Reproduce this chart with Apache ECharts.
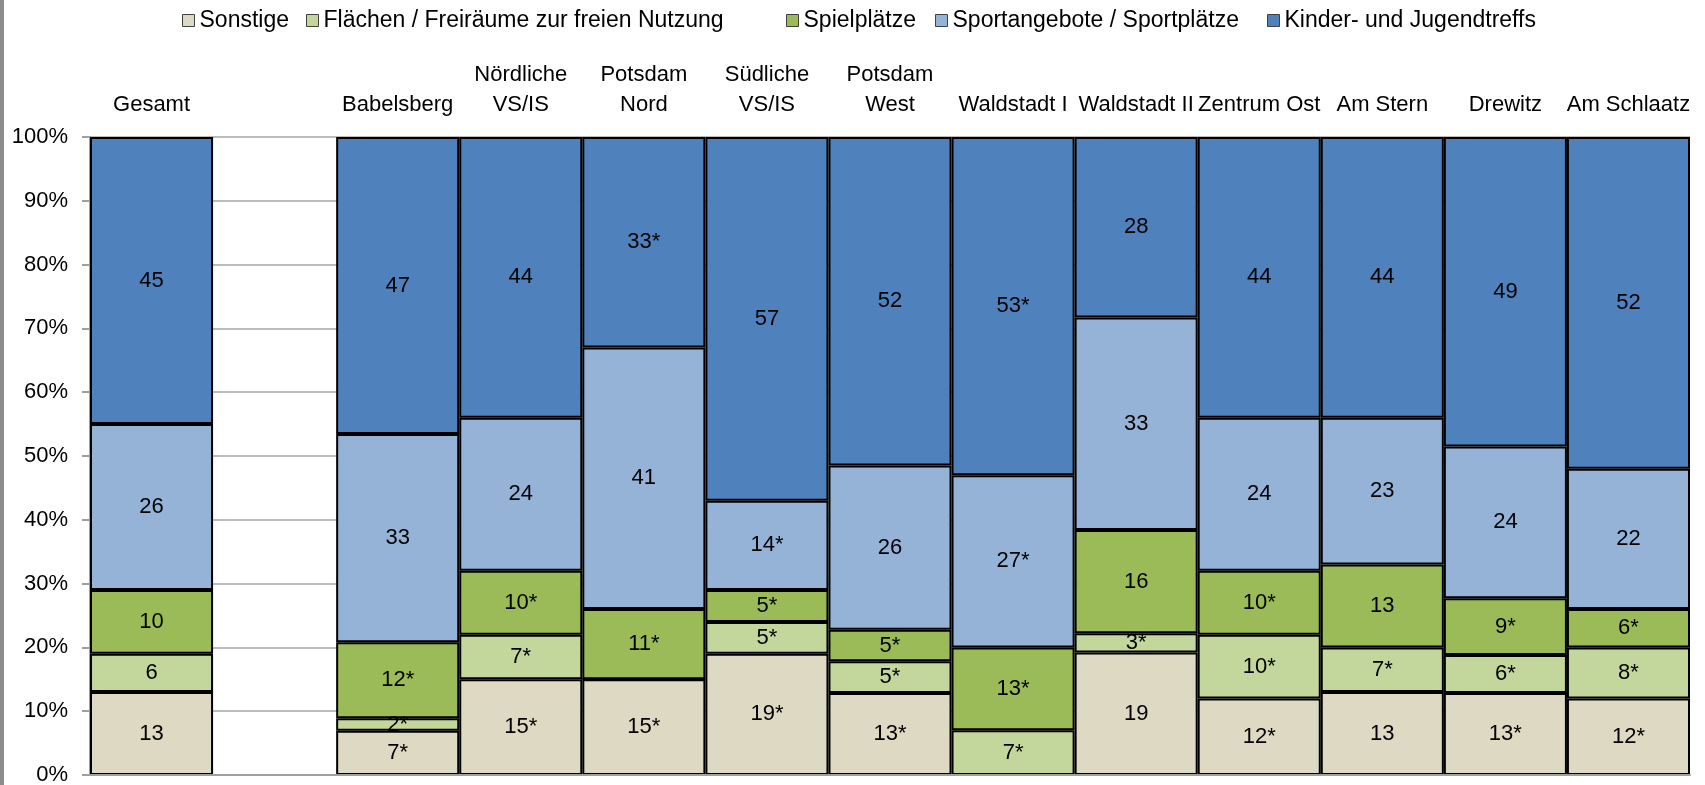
<!DOCTYPE html>
<html lang="de">
<head>
<meta charset="utf-8">
<title>Angebote nach Sozialraum</title>
<script src="https://cdn.jsdelivr.net/npm/echarts@6/dist/echarts.min.js"></script>
<style>
  html, body { margin: 0; padding: 0; background: #fff; }
  #chart { width: 1705px; height: 785px; }
</style>
</head>
<body>
<div id="chart"></div>
<script>
// Districts (the second slot is an intentional empty spacer column)
const categories = [
  'Gesamt', '', 'Babelsberg', 'Nördliche\nVS/IS', 'Potsdam\nNord', 'Südliche\nVS/IS',
  'Potsdam\nWest', 'Waldstadt I', 'Waldstadt II', 'Zentrum Ost', 'Am Stern', 'Drewitz', 'Am Schlaatz'
];

const seriesNames = [
  'Sonstige',
  'Flächen / Freiräume zur freien Nutzung',
  'Spielplätze',
  'Sportangebote / Sportplätze',
  'Kinder- und Jugendtreffs'
];

// Percent values per district (null = no bar)
const sonstige      = [13, null, 7, 15, 15, 19, 13, 0, 19, 12, 13, 13, 12];
const flaechen      = [6, null, 2, 7, 0, 5, 5, 7, 3, 10, 7, 6, 8];
const spielplaetze  = [10, null, 12, 10, 11, 5, 5, 13, 16, 10, 13, 9, 6];
const sportangebote = [26, null, 33, 24, 41, 14, 26, 27, 33, 24, 23, 24, 22];
const treffs        = [45, null, 47, 44, 33, 57, 52, 53, 28, 44, 44, 49, 52];

// 1 = value marked with an asterisk (small case numbers)
const sonstigeStar      = [0, 0, 1, 1, 1, 1, 1, 0, 0, 1, 0, 1, 1];
const flaechenStar      = [0, 0, 1, 1, 0, 1, 1, 1, 1, 1, 1, 1, 1];
const spielplaetzeStar  = [0, 0, 1, 1, 1, 1, 1, 1, 0, 1, 0, 1, 1];
const sportangeboteStar = [0, 0, 0, 0, 0, 1, 0, 1, 0, 0, 0, 0, 0];
const treffsStar        = [0, 0, 0, 0, 1, 0, 0, 1, 0, 0, 0, 0, 0];

const yTicks = [0, 10, 20, 30, 40, 50, 60, 70, 80, 90, 100];

const values = [sonstige, flaechen, spielplaetze, sportangebote, treffs];
const stars = [sonstigeStar, flaechenStar, spielplaetzeStar, sportangeboteStar, treffsStar];
const colors = ['#DDD9C3', '#C3D69B', '#9BBB59', '#95B3D7', '#4F81BD'];

const FONT = '"Liberation Sans", Arial, sans-serif';

// 100 % stacking: each segment is drawn as its share of the column total
const totals = categories.map((_, i) =>
  values.reduce((s, arr) => s + (arr[i] || 0), 0));

const series = values.map((arr, k) => ({
  name: seriesNames[k],
  type: 'bar',
  stack: 'total',
  barWidth: '100%',
  itemStyle: { color: colors[k], borderColor: '#000', borderWidth: 2 },
  label: {
    show: true,
    position: 'inside',
    color: '#000',
    fontFamily: FONT,
    fontSize: 22,
    formatter: p => {
      const v = arr[p.dataIndex];
      if (!v) return '';
      return v + (stars[k][p.dataIndex] ? '*' : '');
    }
  },
  data: arr.map((v, i) => (v == null || !totals[i]) ? null : v / totals[i] * 100)
}));

// One legend block per entry so each can sit at its own spot
const legendLeft = [177, 301, 781, 930, 1262];
const legends = seriesNames.map((n, k) => ({
  data: [n],
  left: legendLeft[k],
  top: 4,
  icon: 'rect',
  itemWidth: 12,
  itemHeight: 12,
  itemStyle: { borderColor: '#404040', borderWidth: 1 },
  textStyle: { color: '#000', fontFamily: FONT, fontSize: 23 },
  selectedMode: false
}));

const chart = echarts.init(document.getElementById('chart'), null, { renderer: 'canvas' });
chart.setOption({
  animation: false,
  backgroundColor: '#fff',
  textStyle: { fontFamily: FONT },
  legend: legends,
  grid: { left: 90, right: 15, top: 137, bottom: 10, outerBoundsMode: 'none' },
  xAxis: [
    {
      type: 'category',
      data: categories,
      position: 'bottom',
      z: 5,
      axisLine: { lineStyle: { color: '#a0a0a0', width: 2 } },
      axisTick: { length: 11, lineStyle: { color: '#a0a0a0', width: 2 } },
      axisLabel: { show: false }
    },
    {
      type: 'category',
      data: categories,
      position: 'top',
      axisLine: { show: false },
      axisTick: { show: false },
      axisLabel: {
        interval: 0,
        color: '#000',
        fontFamily: FONT,
        fontSize: 22,
        lineHeight: 30,
        margin: 17
      }
    }
  ],
  yAxis: {
    type: 'value',
    min: yTicks[0],
    max: yTicks[yTicks.length - 1],
    interval: 10,
    axisLine: { show: true, lineStyle: { color: '#a0a0a0', width: 2 } },
    axisTick: { show: true, length: 8, lineStyle: { color: '#a0a0a0', width: 2 } },
    axisLabel: { color: '#000', fontFamily: FONT, fontSize: 22, margin: 22, formatter: '{value}%' },
    splitLine: { lineStyle: { color: '#a6a6a6', width: 1.5 } }
  },
  graphic: [{
    type: 'rect',
    left: 0, top: 0,
    shape: { width: 4, height: 785 },
    style: { fill: '#8c8c8c' },
    silent: true
  }],
  series: series
});
</script>
</body>
</html>
